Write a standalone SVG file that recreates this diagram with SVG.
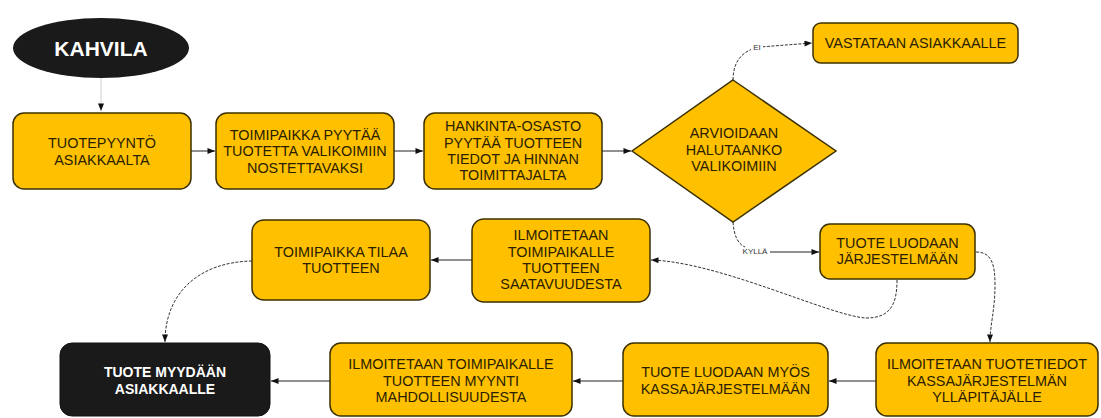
<svg xmlns="http://www.w3.org/2000/svg" width="1101" height="418" viewBox="0 0 1101 418">
<defs>
<style>
.box{fill:#FFC000;stroke:#3a3000;stroke-width:1.5}
.dark{fill:#1a1a1a;stroke:#111;stroke-width:1}
.t{font-family:"Liberation Sans",Arial,sans-serif;font-size:14.4px;fill:#2a2000;text-anchor:middle}
.tw{font-family:"Liberation Sans",Arial,sans-serif;font-size:14px;font-weight:bold;fill:#ffffff;text-anchor:middle}
.lbl{font-family:"Liberation Sans",Arial,sans-serif;font-size:8px;fill:#333;text-anchor:middle}
.c{fill:none;stroke:#222;stroke-width:1}
.cd{fill:none;stroke:#333;stroke-width:1;stroke-dasharray:3 1.5}
</style>
<marker id="ah" viewBox="0 0 10 8" refX="10" refY="4" markerWidth="8" markerHeight="6" markerUnits="userSpaceOnUse" orient="auto">
<path d="M0,0 L10,4 L0,8 z" fill="#111"/>
</marker>
</defs>
<rect width="1101" height="418" fill="#ffffff"/>

<g id="connectors">
<path class="c" d="M101,78 L101,111" style="stroke:#cfcfcf" marker-end="url(#ah)"/>
<path class="c" d="M191,151 L215,151" marker-end="url(#ah)"/>
<path class="c" d="M394,151 L423,151" marker-end="url(#ah)"/>
<path class="c" d="M602,151 L631,151" marker-end="url(#ah)"/>
<path class="cd" d="M733,80 C733,62 742,50 760,47 L812,43" marker-end="url(#ah)"/>
<rect x="751" y="43" width="12" height="9" fill="#fff"/>
<text class="lbl" x="757" y="50">EI</text>
<path class="cd" d="M733,222 C734,236 738,244 745,247"/>
<text class="lbl" x="755" y="254">KYLLÄ</text>
<path class="c" d="M770,252 L819,252" marker-end="url(#ah)"/>
<path class="cd" d="M897,280 C897,305 890,318 866,318 C830,316 720,262 651,260" marker-end="url(#ah)"/>
<path class="cd" d="M976,252 C992,252 995,265 995,285 C995,310 990,325 990,342" marker-end="url(#ah)"/>
<path class="c" d="M876,381 L829,381" marker-end="url(#ah)"/>
<path class="c" d="M623,381 L573,381" marker-end="url(#ah)"/>
<path class="c" d="M330,381 L271,381" marker-end="url(#ah)"/>
<path class="c" d="M472,260 L431,260" marker-end="url(#ah)"/>
<path class="cd" d="M252,261 C200,262 165,292 165,342" marker-end="url(#ah)"/>
</g>

<g id="kahvila">
<ellipse cx="101" cy="48" rx="88" ry="30" fill="#1a1a1a"/>
<text x="101" y="56" font-family="'Liberation Sans',Arial,sans-serif" font-size="21" font-weight="bold" fill="#fff" text-anchor="middle">KAHVILA</text>
</g>

<g id="n1">
<rect class="box" x="13" y="113" width="178" height="76" rx="11"/>
<text class="t" x="102" y="148">TUOTEPYYNTÖ</text>
<text class="t" x="102" y="164.5">ASIAKKAALTA</text>
</g>

<g id="n2">
<rect class="box" x="216" y="113" width="178" height="76" rx="11"/>
<text class="t" x="305" y="139.5">TOIMIPAIKKA PYYTÄÄ</text>
<text class="t" x="305" y="156">TUOTETTA VALIKOIMIIN</text>
<text class="t" x="305" y="172.5">NOSTETTAVAKSI</text>
</g>

<g id="n3">
<rect class="box" x="424" y="113" width="178" height="76" rx="11"/>
<text class="t" x="513" y="131">HANKINTA-OSASTO</text>
<text class="t" x="513" y="147.5">PYYTÄÄ TUOTTEEN</text>
<text class="t" x="513" y="163.5">TIEDOT JA HINNAN</text>
<text class="t" x="513" y="179.5">TOIMITTAJALTA</text>
</g>

<g id="decision">
<polygon class="box" points="733,80 836,151 733,222 632,151"/>
<text class="t" x="734" y="138">ARVIOIDAAN</text>
<text class="t" x="734" y="154.5">HALUTAANKO</text>
<text class="t" x="734" y="171">VALIKOIMIIN</text>
</g>

<g id="n_vastataan">
<rect class="box" x="813" y="23" width="205" height="40" rx="8"/>
<text class="t" x="915.5" y="48">VASTATAAN ASIAKKAALLE</text>
</g>

<g id="n_luodaan">
<rect class="box" x="820" y="224" width="155" height="55" rx="10"/>
<text class="t" x="897.5" y="248">TUOTE LUODAAN</text>
<text class="t" x="897.5" y="264">JÄRJESTELMÄÄN</text>
</g>

<g id="n_saatavuus">
<rect class="box" x="472" y="219" width="178" height="83" rx="12"/>
<text class="t" x="561" y="240">ILMOITETAAN</text>
<text class="t" x="561" y="256.5">TOIMIPAIKALLE</text>
<text class="t" x="561" y="273">TUOTTEEN</text>
<text class="t" x="561" y="289">SAATAVUUDESTA</text>
</g>

<g id="n_tilaa">
<rect class="box" x="252" y="220" width="178" height="80" rx="12"/>
<text class="t" x="341" y="257">TOIMIPAIKKA TILAA</text>
<text class="t" x="341" y="273">TUOTTEEN</text>
</g>

<g id="n_myydaan">
<rect class="dark" x="60" y="343" width="210" height="73" rx="12"/>
<text class="tw" x="165" y="377">TUOTE MYYDÄÄN</text>
<text class="tw" x="165" y="394">ASIAKKAALLE</text>
</g>

<g id="n_myynti">
<rect class="box" x="330" y="343" width="242" height="73" rx="11"/>
<text class="t" x="451" y="369">ILMOITETAAN TOIMIPAIKALLE</text>
<text class="t" x="451" y="386">TUOTTEEN MYYNTI</text>
<text class="t" x="451" y="402">MAHDOLLISUUDESTA</text>
</g>

<g id="n_kassa">
<rect class="box" x="623" y="343" width="205" height="73" rx="11"/>
<text class="t" x="725.5" y="377">TUOTE LUODAAN MYÖS</text>
<text class="t" x="725.5" y="394">KASSAJÄRJESTELMÄÄN</text>
</g>

<g id="n_yllapitaja">
<rect class="box" x="876" y="343" width="222" height="73" rx="11"/>
<text class="t" x="987" y="369">ILMOITETAAN TUOTETIEDOT</text>
<text class="t" x="987" y="385.5">KASSAJÄRJESTELMÄN</text>
<text class="t" x="987" y="402">YLLÄPITÄJÄLLE</text>
</g>
</svg>
